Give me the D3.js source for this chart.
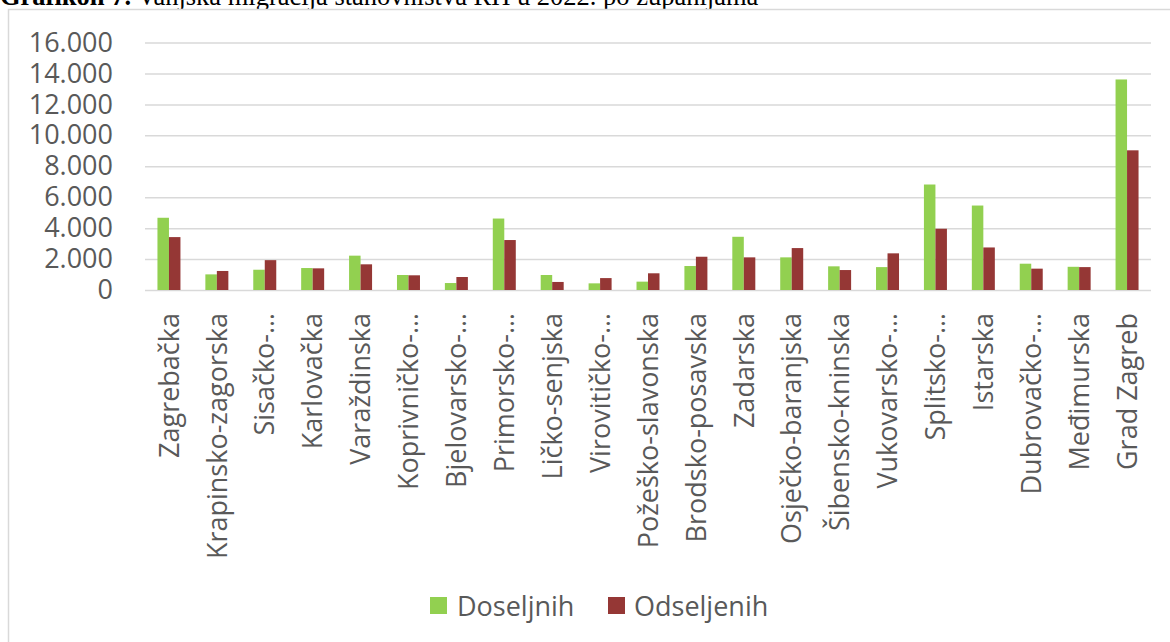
<!DOCTYPE html>
<html>
<head>
<meta charset="utf-8">
<script src="https://cdn.jsdelivr.net/npm/d3@7"></script>
<style>
  body { margin: 0; background: #fff; }
  svg { display: block; }
</style>
</head>
<body>
<svg id="chart"></svg>
<script>
const zupanije = ["Zagrebačka", "Krapinsko-zagorska", "Sisačko-…", "Karlovačka", "Varaždinska",
  "Koprivničko-…", "Bjelovarsko-…", "Primorsko-…", "Ličko-senjska", "Virovitičko-…",
  "Požeško-slavonska", "Brodsko-posavska", "Zadarska", "Osječko-baranjska", "Šibensko-kninska",
  "Vukovarsko-…", "Splitsko-…", "Istarska", "Dubrovačko-…", "Međimurska", "Grad Zagreb"];
const doseljeni = [4670, 1010, 1310, 1420, 2220, 970, 450, 4620, 970, 430,
  540, 1550, 3440, 2110, 1530, 1480, 6820, 5460, 1700, 1500, 13610];
const odseljeni = [3420, 1230, 1930, 1400, 1660, 950, 840, 3230, 520, 770,
  1080, 2150, 2110, 2710, 1290, 2370, 3960, 2750, 1380, 1480, 9030];
const serije = ["Doseljnih", "Odseljenih"];
const boje = ["#92D050", "#953735"];
const yTicks = [0, 2000, 4000, 6000, 8000, 10000, 12000, 14000, 16000];

const width = 1170, height = 642;
const svg = d3.select("#chart").attr("width", width).attr("height", height);
const font = "'Open Sans', sans-serif";
const textColor = "#595959";

// title, cut off at the top of the page
const title = svg.append("text")
  .attr("x", 0).attr("y", 5)
  .attr("font-family", "'Liberation Serif', serif")
  .attr("font-size", 26.5)
  .attr("fill", "#000");
title.append("tspan").attr("font-weight", "bold").text("Grafikon 7.");
title.append("tspan").text(" Vanjska migracija stanovništva RH u 2022. po županijama");

// chart frame
svg.append("rect")
  .attr("x", 8.5).attr("y", 9.5)
  .attr("width", 1200).attr("height", 700)
  .attr("fill", "#fff")
  .attr("stroke", "#d9d9d9")
  .attr("stroke-width", 1.5);

const plotLeft = 145, plotRight = 1151, plotTop = 42.5, plotBottom = 290;

const x = d3.scaleBand().domain(zupanije).range([plotLeft, plotRight])
  .paddingInner(0.52).paddingOuter(0.26);
const xs = d3.scaleBand().domain(serije).range([0, x.bandwidth()]);
const y = d3.scaleLinear().domain([0, 16000]).range([plotBottom, plotTop]);

const fmt = d3.formatLocale({decimal: ",", thousands: ".", grouping: [3], currency: ["", ""]}).format(",d");

// gridlines + y labels
const yAxis = svg.append("g")
  .attr("transform", `translate(${plotLeft},0)`)
  .call(d3.axisLeft(y).tickValues(yTicks).tickFormat(fmt).tickSize(-(plotRight - plotLeft)).tickPadding(32));
yAxis.select(".domain").remove();
yAxis.selectAll("line").attr("stroke", "#d9d9d9").attr("stroke-width", 1.5);
yAxis.selectAll("text")
  .attr("font-family", font).attr("font-size", 27).attr("fill", textColor);

// bars
const groups = svg.append("g").selectAll("g")
  .data(zupanije).enter()
  .append("g")
  .attr("transform", d => `translate(${x(d)},0)`);

groups.selectAll("rect")
  .data((d, i) => [doseljeni[i], odseljeni[i]].map((v, j) => ({serija: serije[j], v, j})))
  .enter().append("rect")
  .attr("x", d => xs(d.serija))
  .attr("y", d => y(d.v))
  .attr("width", xs.bandwidth())
  .attr("height", d => y(0) - y(d.v))
  .attr("fill", d => boje[d.j]);

// category labels
svg.append("g").selectAll("text")
  .data(zupanije).enter()
  .append("text")
  .attr("transform", d => `translate(${x(d) + x.bandwidth() / 2},313) rotate(-90)`)
  .attr("text-anchor", "end")
  .attr("dy", "0.36em")
  .attr("font-family", font).attr("font-size", 27).attr("fill", textColor)
  .text(d => d);

// legend
const legendItems = [{x: 430, tx: 457}, {x: 608, tx: 634}];
const legend = svg.append("g").selectAll("g")
  .data(serije).enter()
  .append("g");
legend.append("rect")
  .attr("x", (d, i) => legendItems[i].x).attr("y", 597)
  .attr("width", 17).attr("height", 17)
  .attr("fill", (d, i) => boje[i]);
legend.append("text")
  .attr("x", (d, i) => legendItems[i].tx).attr("y", 606)
  .attr("dy", "0.36em")
  .attr("font-family", font).attr("font-size", 27).attr("fill", textColor)
  .text(d => d);
</script>
</body>
</html>
